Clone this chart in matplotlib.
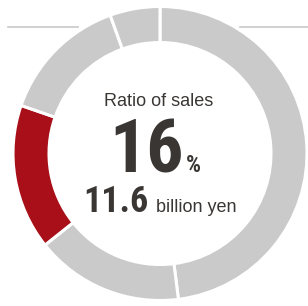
import matplotlib.pyplot as plt

# segment shares, clockwise from 12 o'clock
shares = [48.0, 16.3, 16.0, 14.2, 5.5]
colors = ['#c9cac9', '#c9cac9', '#a80f19', '#c9cac9', '#c9cac9']
ratio = 16
amount = 11.6

W, H = 308, 306
fig = plt.figure(figsize=(W / 100, H / 100), dpi=100)
ax = fig.add_axes([0, 0, 1, 1])

# thin rules either side of the ring
ax.plot([8, 78], [H - 27, H - 27], color='#c8c8c8', lw=1.2, zorder=0)
ax.plot([240, W], [H - 27, H - 27], color='#c8c8c8', lw=1.2, zorder=0)

ax.pie(shares, colors=colors, radius=147, center=(160, H - 153.5),
       startangle=90, counterclock=False,
       wedgeprops=dict(width=36, edgecolor='white', linewidth=2.2))
ax.set_xlim(0, W)
ax.set_ylim(0, H)
ax.set_aspect('equal')
ax.axis('off')

txt = '#3a3634'
cond = 'Roboto Condensed'
ax.text(159, H - 106, 'Ratio of sales', ha='center', va='baseline',
        fontsize=13, color=txt, family='Liberation Sans')
ax.text(184, H - 172.5, str(ratio), ha='right', va='baseline',
        fontsize=53, fontweight='bold', color=txt, family=cond)
ax.text(186, H - 172.5, '%', ha='left', va='baseline',
        fontsize=17, fontweight='bold', color=txt, family=cond)
ax.text(148, H - 212.5, f'{amount}', ha='right', va='baseline',
        fontsize=26, fontweight='bold', color=txt, family=cond)
ax.text(156, H - 212.5, 'billion yen', ha='left', va='baseline',
        fontsize=13, color=txt, family='Liberation Sans')

fig.savefig('out.png', dpi=100)
